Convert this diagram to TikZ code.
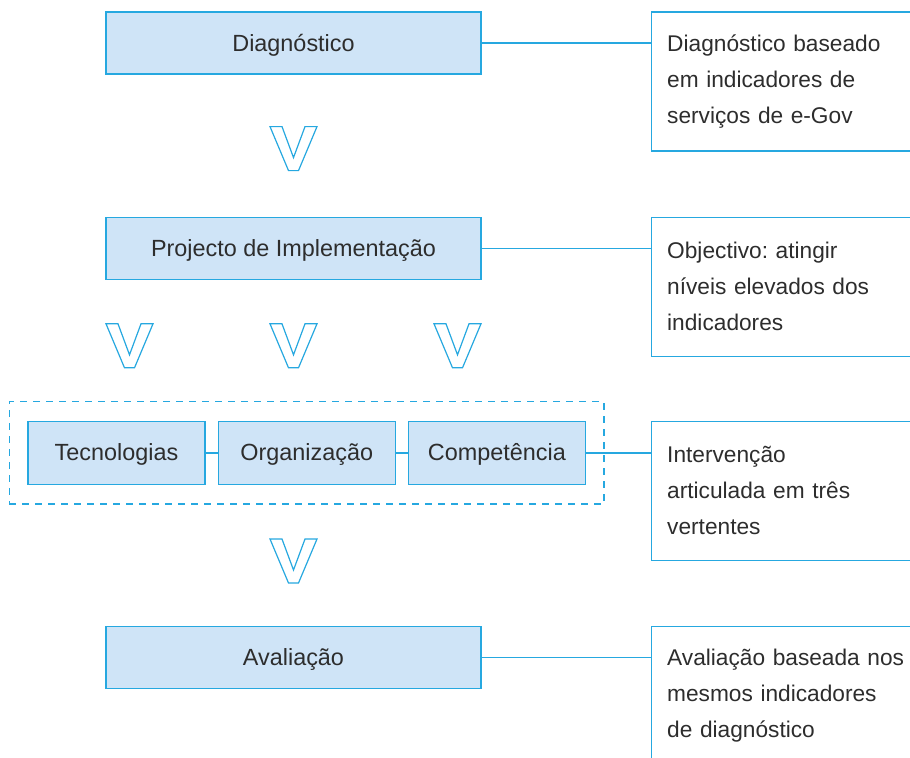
\documentclass[tikz,border=0pt]{standalone}
\usepackage{fontspec}
\setmainfont{Liberation Sans}
\usepackage{xcolor}
\usetikzlibrary{positioning,calc,fit}
\definecolor{boxfill}{RGB}{207,228,247}
\definecolor{lineblue}{RGB}{38,168,224}
\definecolor{txtgray}{RGB}{45,45,45}

\begin{document}
\begin{tikzpicture}[
  node distance=71pt and 6pt,
  font=\fontsize{11.7pt}{18pt}\selectfont,
  stage/.style={draw=lineblue, fill=boxfill, line width=0.6pt, minimum width=187.5pt,
                minimum height=31pt, text=txtgray, inner sep=0pt,
                text height=9pt, text depth=1pt},
  part/.style={draw=lineblue, fill=boxfill, line width=0.6pt, minimum width=88.5pt,
               minimum height=31.5pt, text=txtgray, inner sep=0pt,
               text height=9pt, text depth=1pt},
  note/.style={draw=lineblue, line width=0.6pt, text width=130pt, inner xsep=8pt,
               inner ysep=0pt, minimum height=69.5pt, align=left, text=txtgray,
               font=\fontsize{11.35pt}{18pt}\selectfont\frenchspacing},
  link/.style={draw=lineblue, line width=0.6pt},
  vmark/.style={draw=lineblue, fill=white, line width=0.6pt, line join=miter},
  vee/.pic={\path[vmark] (-11.75pt,11pt) -- (-5.75pt,11pt) -- (0,-4.5pt) -- (5.75pt,11pt)
            -- (11.75pt,11pt) -- (2.5pt,-11pt) -- (-2.5pt,-11pt) -- cycle;}
]
  \useasboundingbox (0,0) rectangle (455pt,-378.5pt);
  \clip (0,0) rectangle (455pt,-378.5pt);
  % stages
  \node[stage] (diag) at (146.75pt,-21.5pt) {Diagnóstico};
  \node[stage, below=of diag] (proj) {Projecto de Implementação};
  \node[part, below=70.5pt of proj, xshift=-88.5pt] (tec) {Tecnologias};
  \node[part, right=of tec] (org) {Organização};
  \node[part, right=of org] (comp) {Competência};
  \node[fit=(tec)(comp), draw=lineblue, line width=0.6pt, dash pattern=on 3.5pt off 3pt,
        inner xsep=9pt, inner ysep=9.5pt] (row) {};
  \coordinate (rowbase) at (proj |- org.south);
  \node[stage, below=70.5pt of rowbase] (aval) {Avaliação};
  % notes
  \node[note, below right=0pt and 84.5pt of diag.north east] (n1)
       {Diagnóstico baseado\\em indicadores de\\serviços de e-Gov};
  \node[note, anchor=north west] (n2) at (n1.west |- proj.north)
       {Objectivo: atingir\\níveis elevados dos\\indicadores};
  \node[note, anchor=north west] (n3) at (n1.west |- comp.north)
       {Intervenção\\articulada em três\\vertentes};
  \node[note, anchor=north west] (n4) at (n1.west |- aval.north)
       {Avaliação baseada nos\\mesmos indicadores\\de diagnóstico};
  % links
  \draw[link] (diag.east) -- (diag.east -| n1.west);
  \draw[link] (proj.east) -- (proj.east -| n2.west);
  \draw[link] (tec.east) -- (org.west);
  \draw[link] (org.east) -- (comp.west);
  \draw[link] (comp.east) -- (comp.east -| n3.west);
  \draw[link] (aval.east) -- (aval.east -| n4.west);
  % flow marks
  \pic at ($(diag.south)!0.5!(proj.north)+(0,-1.5pt)$) {vee};
  \foreach \dx in {-82pt,0pt,82pt}
    \pic at ($(proj.south)!0.5!(proj.south |- org.north)+(\dx,2.25pt)$) {vee};
  \pic at ($(rowbase)!0.5!(aval.north)+(0,-2.75pt)$) {vee};
\end{tikzpicture}
\end{document}
